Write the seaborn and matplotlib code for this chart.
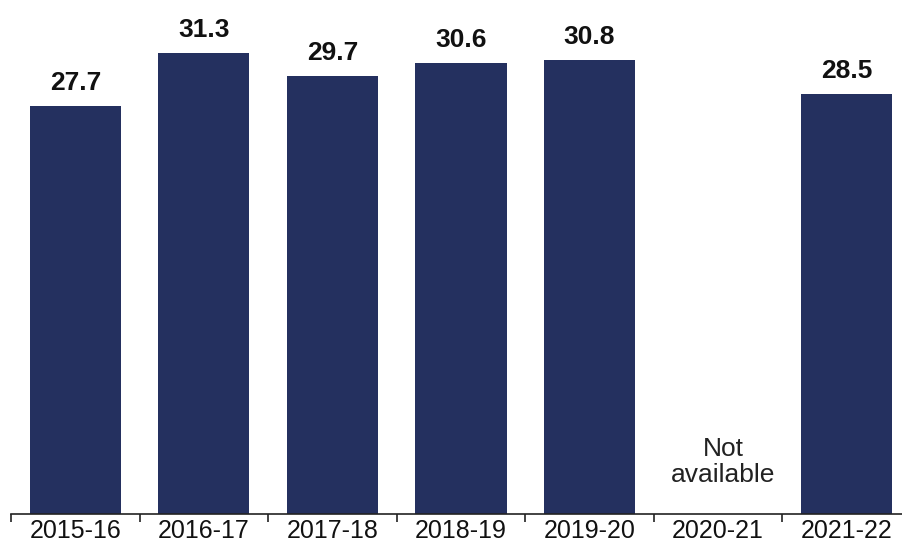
import matplotlib
matplotlib.use("Agg")
import matplotlib.pyplot as plt
import seaborn as sns
import numpy as np
import pandas as pd
from matplotlib.ticker import FixedLocator

categories = ["2015-16", "2016-17", "2017-18", "2018-19", "2019-20", "2020-21", "2021-22"]
values = [27.7, 31.3, 29.7, 30.6, 30.8, np.nan, 28.5]
missing_label = "Not\navailable"

sns.set_theme(style="white")
plt.rcParams['font.family'] = ['Liberation Sans', 'DejaVu Sans']

df = pd.DataFrame({"year": categories, "value": values})

W, H = 903, 547
fig = plt.figure(figsize=(W / 100, H / 100), dpi=100)
px_per_unit = 14.72
axis_y = 513.5
ymax = 34.5
height_px = ymax * px_per_unit
ax = fig.add_axes([11 / W, (H - axis_y) / H, 900 / W, height_px / H])

sns.barplot(data=df, x="year", y="value", order=categories, color="#24305F",
            saturation=1, width=0.71, ax=ax, linewidth=0)

ax.set_xlim(-0.5, len(categories) - 0.5)
ax.set_ylim(0, ymax)
ax.bar_label(ax.containers[0], fmt="%.1f", padding=8, fontsize=19,
             fontweight="bold", color="#111111")

for i, v in enumerate(values):
    if np.isnan(v):
        ax.text(i + 0.04, 3.5, missing_label, ha="center", va="center",
                fontsize=19, color="#222222", linespacing=1.12)

for s in ["top", "right", "left"]:
    ax.spines[s].set_visible(False)
ax.spines["bottom"].set_color("#222222")
ax.spines["bottom"].set_linewidth(1.2)
ax.set_yticks([])
ax.set_xlabel("")
ax.set_ylabel("")
ax.tick_params(axis="x", which="major", length=0, labelsize=18, colors="#111111", pad=4)
ax.xaxis.set_minor_locator(FixedLocator(np.arange(-0.5, len(categories), 1.0)))
ax.tick_params(axis="x", which="minor", length=6, width=1.2, color="#222222", bottom=True)

fig.savefig("out.png", dpi=100)
